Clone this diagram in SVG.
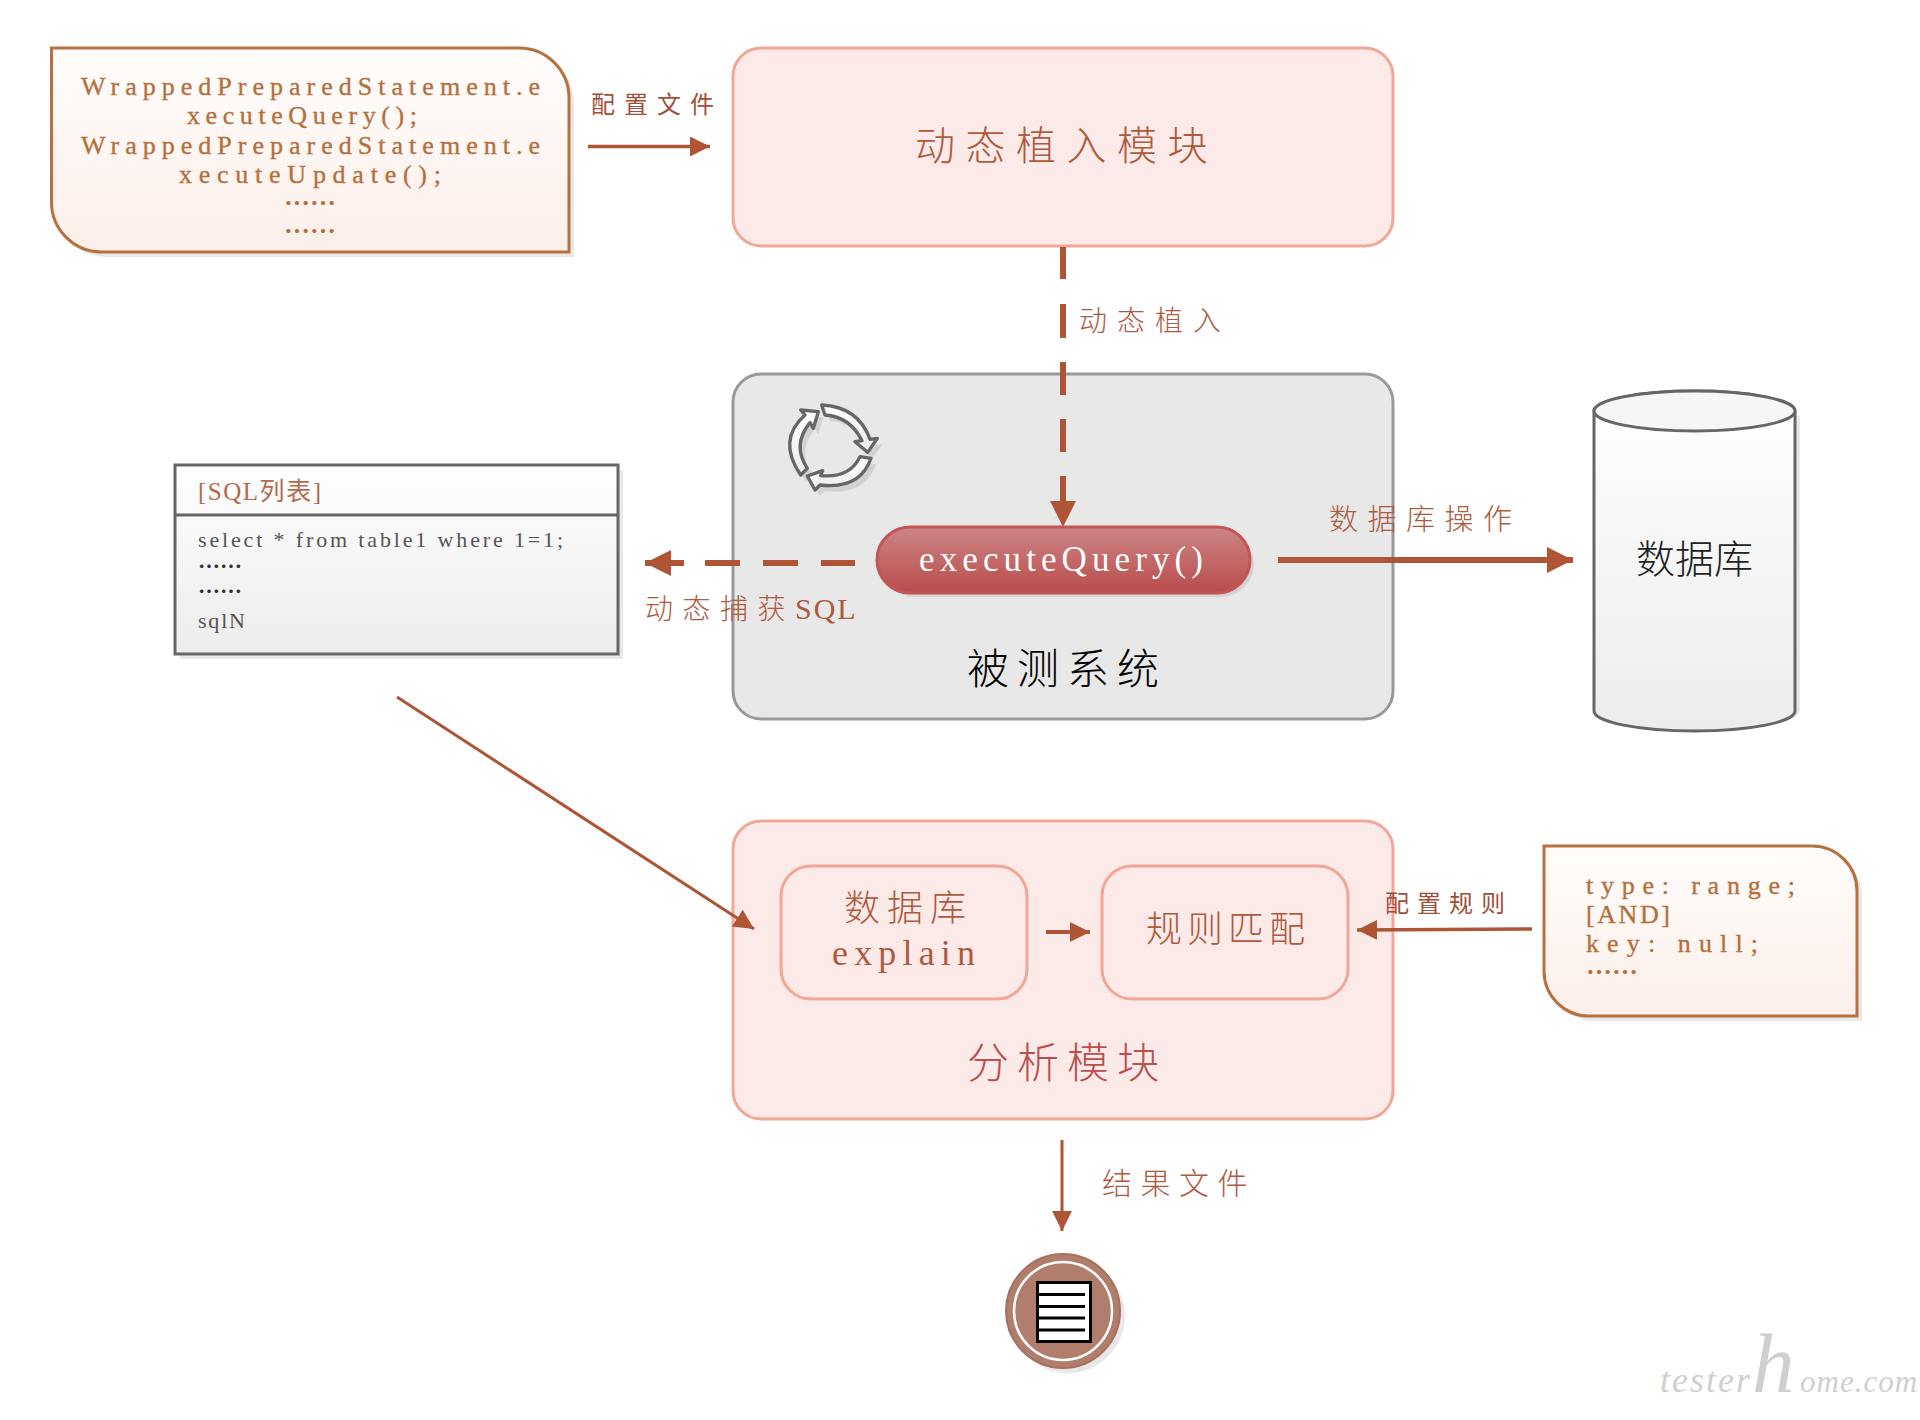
<svg xmlns="http://www.w3.org/2000/svg" xmlns:xlink="http://www.w3.org/1999/xlink" width="1920" height="1420" viewBox="0 0 1920 1420">
<style>
text{font-family:"Noto Sans CJK SC","Liberation Serif",serif;font-weight:300}
.latin{font-family:"Liberation Serif","Noto Sans CJK SC",serif;font-weight:400}
.pink{fill:#fbeae8;stroke:#f2a697;stroke-width:3}
.note{fill:url(#noteG);stroke:#b7703f;stroke-width:3}
.shadow{fill:#000;opacity:.09;stroke:none}
.rust{fill:#ae5a3f}
.notetxt{fill:#b4703f;stroke:#b4703f;stroke-width:.35;font-size:26px;font-family:"Liberation Serif","Noto Sans CJK SC",serif;font-weight:400}
.dots{fill:#b4703f;font-size:26px;font-family:"Noto Sans CJK SC",sans-serif;font-weight:700}
.line{fill:none;stroke:#ad5535}
.row{fill:#555;font-size:22px;font-family:"Liberation Serif","Noto Sans CJK SC",serif;font-weight:400}
.rowdots{fill:#333;font-size:22px;font-family:"Noto Sans CJK SC",sans-serif;font-weight:700}
</style>
<defs>
<linearGradient id="noteG" x1="0" y1="0" x2="0" y2="1"><stop offset="0" stop-color="#fffdfb"/><stop offset="1" stop-color="#fcefe9"/></linearGradient>
<linearGradient id="greyG" x1="0" y1="0" x2="0" y2="1"><stop offset="0" stop-color="#ffffff"/><stop offset="1" stop-color="#ececec"/></linearGradient>
<linearGradient id="pillG" x1="0" y1="0" x2="0" y2="1"><stop offset="0" stop-color="#cd8585"/><stop offset="1" stop-color="#b94c4c"/></linearGradient>
<marker id="arrow" markerUnits="userSpaceOnUse" markerWidth="30" markerHeight="30" refX="26" refY="13" orient="auto"><path d="M0 0L26 13L0 26Z" fill="#ad5535"/></marker>
<marker id="arrowS" markerUnits="userSpaceOnUse" markerWidth="24" markerHeight="24" refX="20" refY="10" orient="auto"><path d="M0 0L20 10L0 20Z" fill="#ad5535"/></marker>
<path id="topNote" d="M51.5 48H519A50 50 0 0 1 569 98V252H101A50 50 0 0 1 51.5 202Z"/>
<path id="ruleNote" d="M1544 846H1812A45 45 0 0 1 1857 891V1016H1589A45 45 0 0 1 1544 971Z"/>
<path id="cyc1" d="M155 45Q265 50 300 148L322 145L293 187L255 155L276 152Q240 80 165 75Z"/>
<path id="cyc2" d="M270 200L303 205Q270 300 150 285L135 300L112 258L158 242L152 257Q240 265 270 200Z"/>
<path id="cyc3" d="M92 255Q20 150 105 75L92 60L145 65L130 115L120 98Q65 165 112 235Z"/>
</defs>
<rect width="1920" height="1420" fill="#fff"/>

<g id="config-note">
<use xlink:href="#topNote" class="shadow" transform="translate(5,5)"/>
<use xlink:href="#topNote" class="note"/>
<text class="notetxt" x="81" y="95" textLength="459">WrappedPreparedStatement.e</text>
<text class="notetxt" x="187" y="124" textLength="230">xecuteQuery();</text>
<text class="notetxt" x="81" y="154" textLength="459">WrappedPreparedStatement.e</text>
<text class="notetxt" x="179" y="183" textLength="262">xecuteUpdate();</text>
<text class="dots" x="310" y="213" text-anchor="middle">……</text>
<text class="dots" x="310" y="241" text-anchor="middle">……</text>
</g>

<g id="inject-module">
<rect x="733" y="48" width="660" height="198" rx="28" class="pink"/>
<text x="915" y="160" class="rust" font-size="40" letter-spacing="10.5">动态植入模块</text>
</g>

<g id="system-under-test">
<rect x="733" y="374" width="660" height="345" rx="28" fill="#e8e8e8" stroke="#999" stroke-width="3"/>
<g transform="translate(770,390) scale(.3333)">
<g class="shadow" transform="translate(15,18)"><use xlink:href="#cyc1"/><use xlink:href="#cyc2"/><use xlink:href="#cyc3"/></g>
<g fill="url(#greyG)" stroke="#666" stroke-width="10" stroke-linejoin="round"><use xlink:href="#cyc1"/><use xlink:href="#cyc2"/><use xlink:href="#cyc3"/></g>
</g>
<text x="967" y="684" fill="#000" font-size="42" letter-spacing="8">被测系统</text>
</g>

<g id="executeQuery">
<rect x="881" y="531" width="373" height="66" rx="33" class="shadow"/>
<rect x="877" y="527" width="373" height="66" rx="33" fill="url(#pillG)" stroke="#c25555" stroke-width="3"/>
<text class="latin" x="919" y="571" fill="#fff" font-size="35" textLength="284">executeQuery()</text>
</g>

<g id="database">
<path d="M1599 416V710A100 20 0 0 0 1800 710V416Z" class="shadow"/>
<path d="M1594 411V711A100.500 20 0 0 0 1795 711V411A100.500 20 0 0 0 1594 411Z" fill="url(#greyG)" stroke="#666" stroke-width="3"/>
<ellipse cx="1694.500" cy="411" rx="100.500" ry="20" fill="#f6f6f6" stroke="#666" stroke-width="3"/>
<text x="1694.500" y="573" text-anchor="middle" fill="#222" font-size="39">数据库</text>
</g>

<g id="sql-list">
<rect x="180" y="470" width="443" height="189" class="shadow"/>
<rect x="175" y="465" width="443" height="189" fill="url(#greyG)" stroke="#666" stroke-width="3"/>
<line x1="175" y1="515" x2="618" y2="515" stroke="#666" stroke-width="3"/>
<text class="latin" x="198" y="500" fill="#b56a4c" font-size="25" textLength="123">[SQL列表]</text>
<text class="row" x="198" y="547" textLength="365">select * from table1 where 1=1;</text>
<text class="rowdots" x="198" y="574">……</text>
<text class="rowdots" x="198" y="599">……</text>
<text class="row" x="198" y="628" textLength="47">sqlN</text>
</g>

<g id="analysis-module">
<rect x="733" y="821" width="660" height="298" rx="28" class="pink"/>
<text x="967" y="1078" fill="#b9504f" font-size="42" letter-spacing="8">分析模块</text>
</g>
<g id="explain-box">
<rect x="781" y="866" width="246" height="133" rx="30" class="pink"/>
<text x="844" y="921" class="rust" font-size="36" letter-spacing="7">数据库</text>
<text class="latin rust" x="832" y="965" font-size="36" textLength="143">explain</text>
</g>
<g id="rule-box">
<rect x="1102" y="866" width="246" height="133" rx="30" class="pink"/>
<text x="1146" y="942" class="rust" font-size="36" letter-spacing="5">规则匹配</text>
</g>

<g id="rule-note">
<use xlink:href="#ruleNote" class="shadow" transform="translate(5,5)"/>
<use xlink:href="#ruleNote" class="note"/>
<text class="notetxt" x="1586" y="894" textLength="209">type: range;</text>
<text class="notetxt" x="1586" y="923" textLength="84">[AND]</text>
<text class="notetxt" x="1586" y="952" textLength="172">key: null;</text>
<text class="dots" x="1586" y="982">……</text>
</g>

<g id="result-file">
<circle cx="1068" cy="1316" r="57" fill="#000" opacity=".09"/>
<circle cx="1063" cy="1311" r="57" fill="#b17e6e" stroke="#a5705f" stroke-width="2"/>
<circle cx="1063" cy="1311" r="49" fill="none" stroke="#fff" stroke-width="2.500"/>
<rect x="1037.500" y="1282.500" width="53" height="59" fill="#fff" stroke="#000" stroke-width="3"/>
<path d="M1037 1294.500H1085M1037 1306.500H1085M1037 1318H1085M1037 1330H1085" stroke="#000" stroke-width="3"/>
</g>

<g id="connectors">
<path class="line" d="M588 146.500H710" stroke-width="3.500" marker-end="url(#arrowS)"/>
<path class="line" d="M1063 246V527" stroke-width="6" stroke-dasharray="0 1 32 25 34 24 33 24 33 24 33 24" marker-end="url(#arrow)"/>
<path class="line" d="M855 563H645" stroke-width="6" stroke-dasharray="34 23 35 23 35 21 40" marker-end="url(#arrow)"/>
<path class="line" d="M1278 560H1573" stroke-width="6" marker-end="url(#arrow)"/>
<path class="line" d="M397 697L754 929" stroke-width="3" marker-end="url(#arrowS)"/>
<path class="line" d="M1046 932H1090" stroke-width="4" marker-end="url(#arrowS)"/>
<path class="line" d="M1532 929L1357 930" stroke-width="3.500" marker-end="url(#arrowS)"/>
<path class="line" d="M1062 1140V1231" stroke-width="3" marker-end="url(#arrowS)"/>
</g>

<g id="connector-labels">
<text x="591" y="113" fill="#a0503a" font-size="24" letter-spacing="9" style="font-weight:400">配置文件</text>
<text x="1079" y="331" class="rust" font-size="28" letter-spacing="10">动态植入</text>
<text x="1329" y="530" class="rust" font-size="29" letter-spacing="9.500">数据库操作</text>
<text x="645" y="619" class="rust" font-size="28" letter-spacing="9.500">动态捕获<tspan letter-spacing="2" font-size="30" style="font-family:'Liberation Serif',serif;font-weight:400">SQL</tspan></text>
<text x="1385" y="912" fill="#a0503a" font-size="24" letter-spacing="8" style="font-weight:400">配置规则</text>
<text x="1102" y="1194" class="rust" font-size="30" letter-spacing="8.500">结果文件</text>
</g>

<text id="watermark" y="1392" fill="#cfcfcf" font-size="36" letter-spacing="2" style="font-family:'Liberation Serif',serif;font-style:italic;font-weight:400"><tspan x="1660">tester</tspan><tspan x="1752" font-size="85">h</tspan><tspan x="1800" font-size="31" letter-spacing="1">ome.com</tspan></text>
</svg>
